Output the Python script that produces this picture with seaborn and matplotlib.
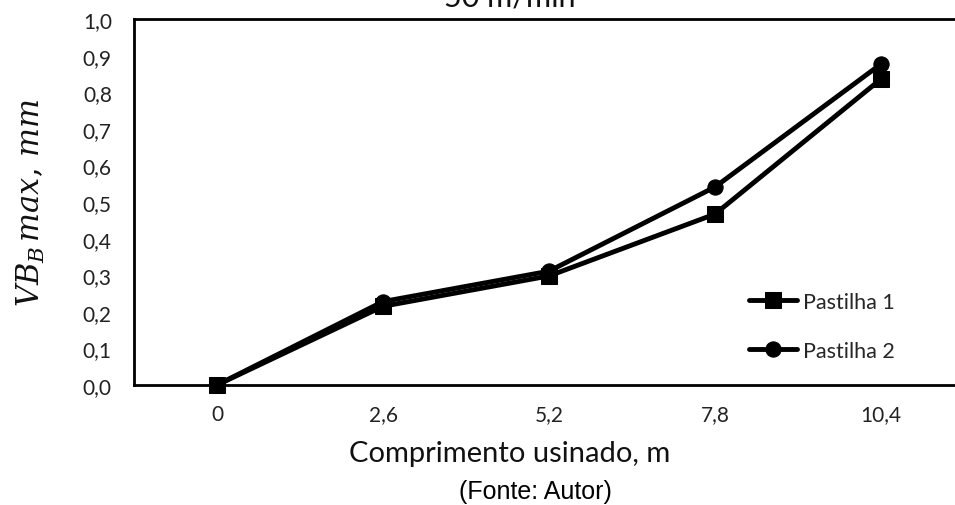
import matplotlib
matplotlib.use("Agg")
import matplotlib.pyplot as plt
from matplotlib.ticker import MultipleLocator, FixedLocator
import seaborn as sns
import pandas as pd

# Data
comprimento = ["0", "2,6", "5,2", "7,8", "10,4"]
pastilha_1 = [0.0, 0.215, 0.298, 0.467, 0.836]
pastilha_2 = [0.0, 0.228, 0.311, 0.541, 0.877]
y_ticks = [0.0, 0.1, 0.2, 0.3, 0.4, 0.5, 0.6, 0.7, 0.8, 0.9, 1.0]

# Long format table for seaborn
pos = list(range(len(comprimento)))
df = pd.DataFrame({
    "pos": pos + pos,
    "vb": pastilha_1 + pastilha_2,
    "serie": ["Pastilha 1"] * len(pos) + ["Pastilha 2"] * len(pos),
})

sns.set_style("white")
plt.rcParams["font.family"] = ["Lato", "DejaVu Sans"]
plt.rcParams["mathtext.fontset"] = "dejavuserif"

fig = plt.figure(figsize=(9.55, 5.06), dpi=100)
ax = fig.add_axes([134 / 955, 1 - 386 / 506, 830 / 955, 366 / 506])

sns.lineplot(data=df, x="pos", y="vb", hue="serie", style="serie",
             markers=["s", "o"], dashes=False, palette=["black", "black"],
             linewidth=3.5, markersize=12, markeredgecolor="black",
             legend=False, clip_on=False, ax=ax)
# circle a bit smaller than the square
ax.lines[1].set_markersize(11)

ax.set_xlim(-0.5, len(comprimento) - 0.5)
ax.set_ylim(0, 1.0)
ax.set_xticks(pos)
ax.set_xticklabels(comprimento)
ax.xaxis.set_minor_locator(FixedLocator([p + 0.5 for p in range(-1, len(pos))]))
ax.set_yticks(y_ticks)
ax.set_yticklabels([f"{v:.1f}".replace(".", ",") for v in y_ticks])
ax.yaxis.set_minor_locator(MultipleLocator(0.05))

ax.tick_params(axis="both", which="both", direction="in", color="black", width=1.5)
ax.tick_params(axis="x", which="both", length=5, pad=14, labelsize=15)
ax.tick_params(axis="y", which="major", length=7, pad=16, labelsize=15)
ax.tick_params(axis="y", which="minor", length=6)
for lbl in ax.get_xticklabels() + ax.get_yticklabels():
    lbl.set_color("#222222")

for side in ["left", "bottom", "top", "right"]:
    ax.spines[side].set_linewidth(2)
    ax.spines[side].set_color("black")

ax.set_xlabel("Comprimento usinado, m", fontsize=21, color="#111111")
ax.xaxis.set_label_coords((510 - 134) / 830, -0.150)
ax.set_ylabel(r"$VB_B\,max,\,mm$", fontsize=22, color="#111111")
ax.yaxis.set_label_coords(-0.105, 0.5)

ax.legend(ax.lines[:2], ["Pastilha 1", "Pastilha 2"], loc="center left",
          bbox_to_anchor=((749 - 134) / 830, 0.161), frameon=False,
          fontsize=15.5, handlelength=2.25, handletextpad=0.25,
          labelspacing=1.35, borderpad=0, borderaxespad=0)

# Title is cut off at the top of the image
fig.text(510 / 955, 1 - 7 / 506, "50 m/min", ha="center", va="baseline",
         fontsize=22, color="#111111")
fig.text(535 / 955, 1 - 492 / 506, "(Fonte: Autor)", ha="center", va="center",
         fontsize=18, family=["Liberation Sans", "DejaVu Sans"], color="black")

fig.savefig("out.png", dpi=100)
